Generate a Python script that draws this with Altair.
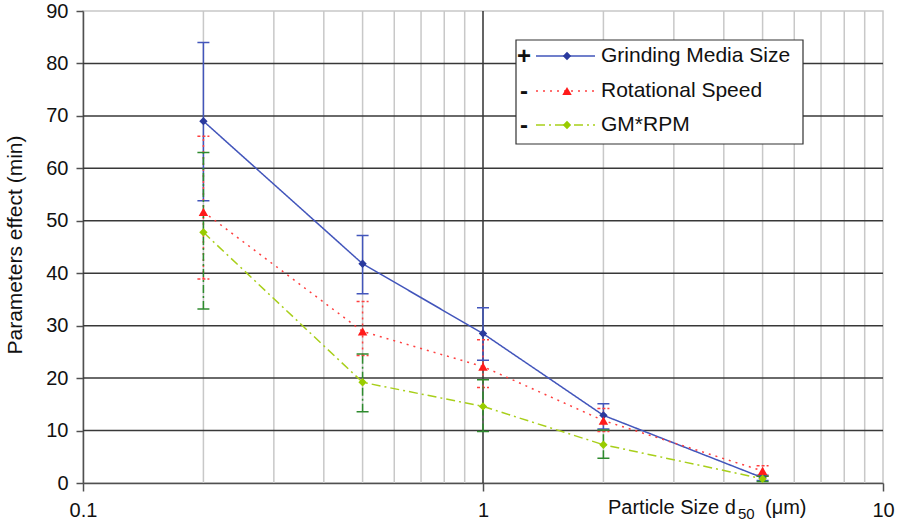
import altair as alt
import pandas as pd

# ---- data ----
x_size = [0.2, 0.5, 1, 2, 5]
series_names = ["Grinding Media Size", "Rotational Speed", "GM*RPM"]

gms = [69.0, 41.8, 28.5, 12.9, 1.0]
gms_lo = [53.8, 36.1, 23.4, 10.3, 0.5]
gms_hi = [84.0, 47.2, 33.4, 15.1, 1.5]

rs = [51.7, 28.9, 22.2, 11.9, 2.3]
rs_lo = [38.9, 24.3, 18.2, 9.8, 1.3]
rs_hi = [66.1, 34.6, 27.3, 14.2, 3.3]

gm = [47.8, 19.2, 14.6, 7.3, 0.8]
gm_lo = [33.2, 13.6, 9.8, 4.7, 0.3]
gm_hi = [63.0, 24.6, 19.7, 10.1, 1.3]

x_ticks = [0.1, 1, 10]
minor_x = [0.2, 0.3, 0.4, 0.5, 0.6, 0.7, 0.8, 0.9, 2, 3, 4, 5, 6, 7, 8, 9]
major_x = [1]
y_ticks = [0, 10, 20, 30, 40, 50, 60, 70, 80, 90]
grid_y = [10, 20, 30, 40, 50, 60, 70, 80]

FONT = "Liberation Sans"
xscale = alt.Scale(type="log", domain=[0.1, 10], nice=False)
yscale = alt.Scale(domain=[0, 90], nice=False, zero=False)

AX = alt.Axis(values=x_ticks, format="~g", grid=False, title=None,
              domainColor="#505050", domainWidth=1.5, tickColor="#505050",
              tickWidth=1.5, tickSize=8, labelFontSize=20, labelFont=FONT,
              labelColor="#111111", labelPadding=9, labelFlush=False,
              labelOverlap=False)
AY = alt.Axis(values=y_ticks, grid=False, title=None,
              domainColor="#505050", domainWidth=1.5, tickColor="#505050",
              tickWidth=1.5, tickSize=7, labelFontSize=20, labelFont=FONT,
              labelColor="#111111", labelPadding=8, labelOverlap=False)


def X(field):
    return alt.X(field, type="quantitative", scale=xscale, axis=AX)


def Y(field):
    return alt.Y(field, type="quantitative", scale=yscale, axis=AY)


# ---- grid ----
minor_df = pd.DataFrame({"mx": minor_x})
major_df = pd.DataFrame({"mx": major_x})
gy_df = pd.DataFrame({"gy": grid_y})

grid_minor = alt.Chart(minor_df).mark_rule(color="#c8c8c8", strokeWidth=1.5).encode(x=X("mx"))
grid_major = alt.Chart(major_df).mark_rule(color="#303030", strokeWidth=1.5).encode(x=X("mx"))
grid_h = alt.Chart(gy_df).mark_rule(color="#383838", strokeWidth=1.5).encode(y=Y("gy"))

# ---- series ----
series = [
    dict(name=series_names[0], v=gms, lo=gms_lo, hi=gms_hi,
         line="#4255bb", dash=[1, 0], mk="#2a3a9e", shape="diamond", size=70,
         eb="#4255bb", ebdash=[1, 0], capdash=[1, 0]),
    dict(name=series_names[1], v=rs, lo=rs_lo, hi=rs_hi,
         line="#ff4040", dash=[2, 5], mk="#ff1a1a", shape="triangle-up", size=90,
         eb="#ff4040", ebdash=[2, 4], capdash=[3, 2]),
    dict(name=series_names[2], v=gm, lo=gm_lo, hi=gm_hi,
         line="#a8cf1a", dash=[9, 4, 2, 4], mk="#99cc00", shape="diamond", size=70,
         eb="#2e8b2e", ebdash=[8, 3, 2, 3], capdash=[1, 0]),
]

layers = [grid_minor, grid_major, grid_h]
line_layers, eb_layers, pt_layers = [], [], []
for s in series:
    df = pd.DataFrame({"x": x_size, "v": s["v"], "lo": s["lo"], "hi": s["hi"],
                       "series": s["name"]})
    base = alt.Chart(df)
    line_layers.append(base.mark_line(color=s["line"], strokeDash=s["dash"],
                                      strokeWidth=1.5).encode(x=X("x"), y=Y("v")))
    eb_layers.append(base.mark_rule(color=s["eb"], strokeDash=s["ebdash"],
                                    strokeWidth=1.5).encode(x=X("x"), y=Y("lo"), y2="hi"))
    for f in ["lo", "hi"]:
        eb_layers.append(base.mark_rule(color=s["eb"], strokeWidth=1.5,
                                        strokeDash=s["capdash"],
                                        xOffset=-6, x2Offset=6).encode(
            x=X("x"), x2="x", y=Y(f)))
    pt_layers.append(base.mark_point(shape=s["shape"], filled=True, opacity=1,
                                     color=s["mk"], size=s["size"]).encode(
        x=X("x"), y=Y("v")))

layers += line_layers + eb_layers + pt_layers

# ---- legend (drawn) ----
one = pd.DataFrame({"k": [0]})
leg = alt.Chart(one)
legend_box = leg.mark_rect(fill="white", stroke="#333333", strokeWidth=1.2).encode(
    x=alt.value(433), x2=alt.value(720), y=alt.value(29), y2=alt.value(133))
layers.append(legend_box)
rows = [45, 80, 114]
marks_txt = ["+", "-", "-"]
for s, ry, m in zip(series, rows, marks_txt):
    layers.append(leg.mark_rule(color=s["line"], strokeDash=s["dash"], strokeWidth=1.5).encode(
        x=alt.value(453), x2=alt.value(512), y=alt.value(ry)))
    layers.append(leg.mark_point(shape=s["shape"], filled=True, opacity=1,
                                 color=s["mk"], size=s["size"]).encode(
        x=alt.value(484), y=alt.value(ry)))
    layers.append(leg.mark_text(text=s["name"], font=FONT, fontSize=21, align="left",
                                baseline="middle", color="#111111").encode(
        x=alt.value(518), y=alt.value(ry)))
    layers.append(leg.mark_text(text=m, font=FONT, fontSize=24, fontWeight="bold",
                                align="center", baseline="middle", color="#111111").encode(
        x=alt.value(441), y=alt.value(ry + 1)))

# ---- axis titles (drawn as text) ----
layers.append(leg.mark_text(text="Parameters effect (min)", font=FONT, fontSize=21,
                            angle=270, align="center", baseline="middle",
                            color="#111111").encode(x=alt.value(-67), y=alt.value(234)))
layers.append(leg.mark_text(text="Particle Size d", font=FONT, fontSize=20, align="left",
                            baseline="alphabetic", color="#111111").encode(
    x=alt.value(525), y=alt.value(503)))
layers.append(leg.mark_text(text="50", font=FONT, fontSize=15, align="left",
                            baseline="alphabetic", color="#111111").encode(
    x=alt.value(655), y=alt.value(508)))
layers.append(leg.mark_text(text="(\u03bcm)", font=FONT, fontSize=20, align="left",
                            baseline="alphabetic", color="#111111").encode(
    x=alt.value(682), y=alt.value(503)))

chart = alt.layer(*layers).properties(
    width=800, height=472,
    padding={"left": 83, "top": 11, "right": 17, "bottom": 39},
    autosize=alt.AutoSizeParams(type="none"),
    background="white",
).configure_view(stroke="#c8c8c8", strokeWidth=1.5)

chart.save("out.html", embed_options={"renderer": "svg", "actions": False})
